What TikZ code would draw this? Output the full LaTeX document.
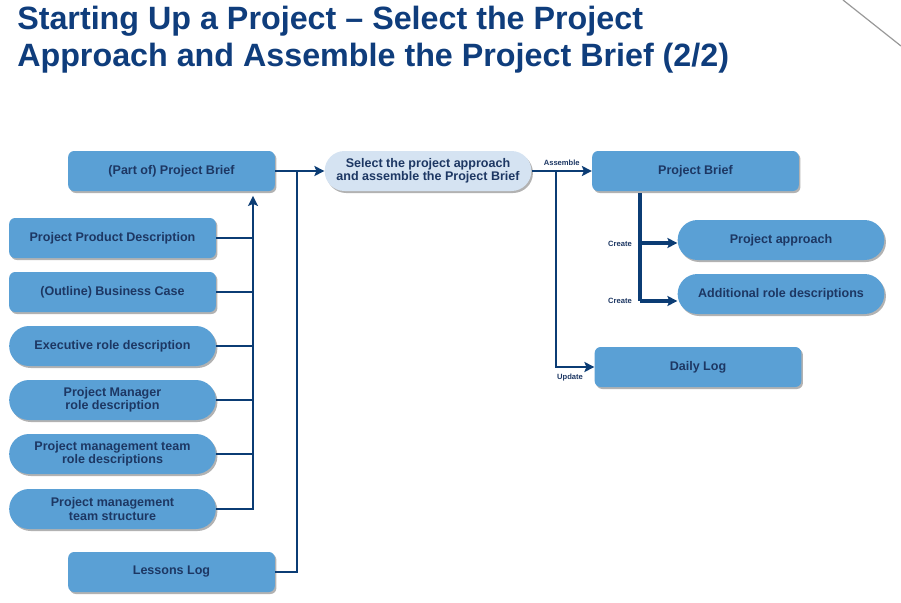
\documentclass[tikz,border=0pt]{standalone}
\usepackage{fontspec}
\setmainfont{Liberation Sans}
\usepackage{tikz}
\usetikzlibrary{arrows.meta,shadows}
\definecolor{cbox}{HTML}{5AA0D5}
\definecolor{clight}{HTML}{D5E3F2}
\definecolor{cline}{HTML}{0B3C74}
\definecolor{ctext}{HTML}{1D3763}
\definecolor{ctitle}{HTML}{0F3D7C}

\begin{document}
\begin{tikzpicture}[
  x=0.75pt,y=-0.75pt,
  >={Stealth[length=7.5pt,width=7.5pt,inset=1.5pt]},
  box/.style={fill=cbox,rounded corners=4.5pt,minimum width=155pt,
    minimum height=30pt,align=center,inner sep=2pt,text=ctext,
    font=\fontsize{9.4}{9.8}\selectfont\bfseries,
    drop shadow={shadow xshift=1.2pt,shadow yshift=-1.5pt,opacity=0.3,fill=black}},
  pill/.style={box,rounded corners=14.9pt},
  link/.style={draw=cline,line width=1.5pt},
  lbl/.style={font=\fontsize{5.7}{6}\selectfont\bfseries,text=ctext,inner sep=1pt},
  title/.style={anchor=base west,inner sep=0pt,text=ctitle,
    font=\fontsize{24.2}{27}\selectfont\bfseries}]
  \useasboundingbox (0,0) rectangle (901,603);
  \draw[gray!80,line width=0.9pt] (843,0) -- (901,46);
  \node[title] (t1) at (17,30) {Starting Up a Project -- Select the Project};
  \node[title] (t2) at (17,66) {Approach and Assemble the Project Brief (2/2)};
  % inputs
  \node[box] (pb1) at (171.5,171) {(Part of) Project Brief};
  \node[box] (ppd) at (112.5,238) {Project Product Description};
  \node[box] (obc) at (112.5,292) {(Outline) Business Case};
  \node[pill] (erd) at (112.5,346) {Executive role description};
  \node[pill] (pmr) at (112.5,400) {Project Manager\\role description};
  \node[pill] (ptr) at (112.5,454) {Project management team\\role descriptions};
  \node[pill] (pts) at (112.5,509) {Project management\\team structure};
  \node[box] (ll) at (171.5,572) {Lessons Log};
  % activity
  \node[pill,fill=clight] (sel) at (428,171) {Select the project approach\\and assemble the Project Brief};
  % outputs
  \node[box] (pb) at (695.5,171) {Project Brief};
  \node[pill] (pa) at (781,240) {Project approach};
  \node[pill] (ard) at (781,294) {Additional role descriptions};
  \node[box] (dl) at (698,367) {Daily Log};
  % connectors
  \coordinate (jn) at (253,509);
  \coordinate (jl) at (297,572);
  \coordinate (ju) at (556,171);
  \coordinate (jc) at (640,193);
  \draw[link,->] (pts.east) -- (jn) -- ([yshift=-3.5pt]pb1.south -| jn);
  \foreach \n in {ppd,obc,erd,pmr,ptr}
    \draw[link] (\n.east) -- (\n.east -| jn);
  \draw[link,->] (pb1.east) -- (sel.west);
  \draw[link] (ll.east) -- (jl) -- (jl |- pb1.east);
  \draw[link,->] (sel.east) -- (pb.west) node[midway,above=2pt,lbl] (asm) {Assemble};
  \draw[link,->] (ju) |- (dl.west);
  \node[lbl] (upd) at (570,378) {Update};
  \draw[link,line width=2.3pt] (jc) -- (jc |- 0,301);
  \draw[link,line width=2.3pt,->] (jc |- 0,243) -- (pa.west |- 0,243);
  \draw[link,line width=2.3pt,->] (jc |- 0,301) -- (ard.west |- 0,301);
  \node[lbl] (cr1) at (620,244) {Create};
  \node[lbl] (cr2) at (620,301) {Create};
\end{tikzpicture}
\end{document}
